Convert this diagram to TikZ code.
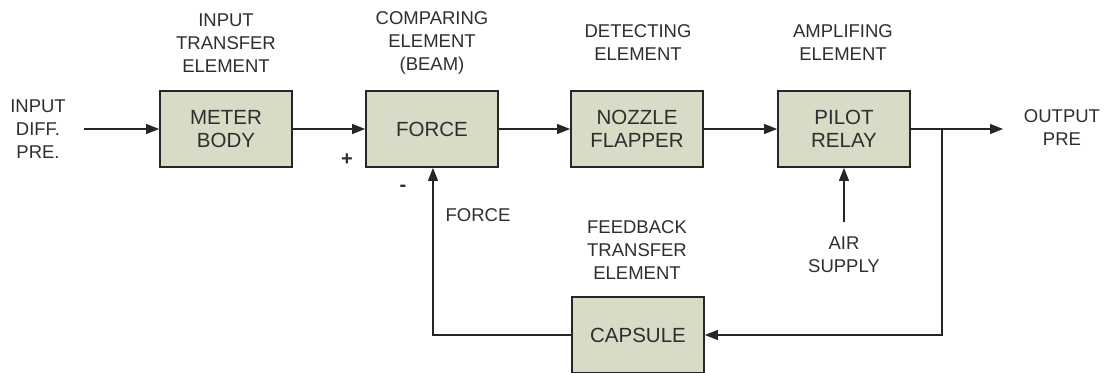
\documentclass[tikz,border=0pt]{standalone}
\usepackage{fontspec}
\setmainfont{Liberation Sans}
\usetikzlibrary{arrows.meta}
\definecolor{boxfill}{HTML}{D8DBC5}
\definecolor{linec}{HTML}{262626}
\definecolor{txtc}{HTML}{2E2E2E}
\begin{document}
\begin{tikzpicture}[x=1pt,y=-1pt,
  blockbox/.style={draw=linec, line width=1.8pt, fill=boxfill, minimum width=132pt, minimum height=76pt, align=center, text=txtc, font=\fontsize{20.5}{23}\selectfont, inner sep=0pt},
  lbl/.style={align=center, text=txtc, font=\fontsize{18.5}{23}\selectfont, inner sep=0pt},
  sign/.style={text=txtc, font=\fontsize{20}{23}\selectfont\bfseries, inner sep=0pt},
  conn/.style={draw=linec, line width=1.4pt},
  arr/.style={conn, -{Triangle[length=13pt,width=10pt]}}]
\useasboundingbox (0,0) rectangle (1105,372);
% blocks
\node[blockbox] (meter) at (226,129) {METER\\BODY};
\node[blockbox] (force) at (432,129) {FORCE};
\node[blockbox] (nozzle) at (637,129) {NOZZLE\\FLAPPER};
\node[blockbox] (pilot) at (844,129) {PILOT\\RELAY};
\node[blockbox] (capsule) at (638,335) {CAPSULE};
% labels
\node[lbl] (lin) at (38,129) {INPUT\\DIFF.\\PRE.};
\node[lbl] (lmeter) at (226,43) {INPUT\\TRANSFER\\ELEMENT};
\node[lbl] (lforce) at (432,43) {COMPARING\\ELEMENT\\(BEAM)};
\node[lbl] (lnozzle) at (638,42.5) {DETECTING\\ELEMENT};
\node[lbl] (lpilot) at (843,42.5) {AMPLIFING\\ELEMENT};
\node[lbl] (lout) at (1062,127.5) {OUTPUT\\PRE};
\node[lbl] (lfb) at (478,215) {FORCE};
\node[lbl] (lcap) at (637,250) {FEEDBACK\\TRANSFER\\ELEMENT};
\node[lbl] (lair) at (844,254.5) {AIR\\SUPPLY};
\node[sign] (lplus) at (347,160) {+};
\node[sign] (lminus) at (403,188) {-};
% coordinates
\coordinate (in) at (84,129);
\coordinate (br) at (942,129);
\coordinate (out) at (1003,129);
\coordinate (brd) at (942,335);
\coordinate (fbl) at (433,335);
\coordinate (air) at (844,222);
% connectors
\draw[arr] (in) -- (meter.west);
\draw[arr] (meter.east) -- (force.west);
\draw[arr] (force.east) -- (nozzle.west);
\draw[arr] (nozzle.east) -- (pilot.west);
\draw[conn] (pilot.east) -- (br);
\draw[arr] (br) -- (out);
\draw[arr] (br) -- (brd) -- (capsule.east);
\draw[arr] (capsule.west) -- (fbl) -- (fbl |- force.south);
\draw[arr] (air) -- (pilot.south);
\end{tikzpicture}
\end{document}
